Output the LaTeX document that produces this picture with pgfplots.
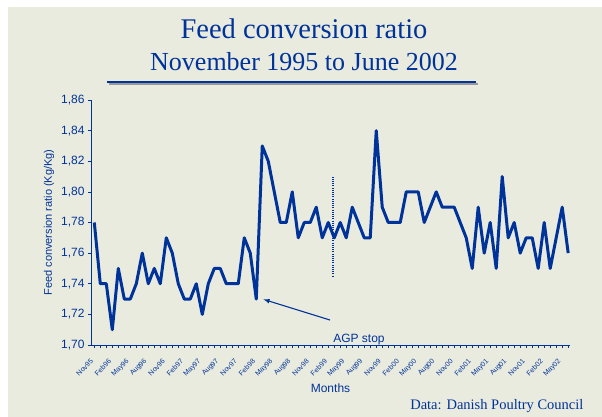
\documentclass[border=0pt]{standalone}
\usepackage{fontspec}
\setmainfont{Liberation Serif}
\newfontfamily\arialf{Liberation Sans}
\usepackage{pgfplots}
\pgfplotsset{compat=1.18}
\definecolor{fcblue}{HTML}{003399}
\definecolor{bgbeige}{HTML}{EAEBDF}

\begin{document}
\begin{tikzpicture}
  \fill[white] (0,0) rectangle (602pt,417pt);
  \fill[bgbeige] (8pt,0) rectangle (602pt,410pt);
  \useasboundingbox (0,0) rectangle (602pt,417pt);

  % title
  \node[anchor=base, text=fcblue, font=\fontsize{28.5}{30}\selectfont] at (304pt,378pt) {Feed conversion ratio};
  \node[anchor=base, text=fcblue, font=\fontsize{26}{28}\selectfont] at (304pt,346pt) {November 1995 to June 2002};
  \draw[gray!80, line width=2pt] (109pt,333pt) -- (478pt,333pt);
  \draw[fcblue, line width=2pt] (107pt,335pt) -- (476pt,335pt);

  \node[anchor=base east, text=fcblue, font=\fontsize{14.5}{16}\selectfont] at (587pt,7pt) {Data: Danish Poultry Council};

  \begin{axis}[
    at={(91pt,72pt)}, anchor=south west,
    scale only axis, width=479pt, height=245pt,
    xmin=-0.55, xmax=79.3,
    ymin=1.70, ymax=1.86,
    axis lines=left,
    axis line style={-, fcblue, line width=0.9pt},
    tick style={fcblue, line width=0.7pt},
    tick align=outside,
    major tick length=3pt, minor tick length=3pt,
    ytick={1.70,1.72,...,1.86},
    /pgf/number format/fixed,
    /pgf/number format/fixed zerofill,
    /pgf/number format/precision=2,
    /pgf/number format/use comma,
    /pgf/number format/assume math mode=true,
    yticklabel style={text=fcblue, font=\arialf\fontsize{12}{13}\selectfont},
    xtick={0,3,...,78},
    minor xtick={0,...,79},
    xticklabels={Nov95,Feb96,May96,Aug96,Nov96,Feb97,May97,Aug97,Nov97,Feb98,May98,Aug98,Nov98,Feb99,May99,Aug99,Nov99,Feb00,May00,Aug00,Nov00,Feb01,May01,Aug01,Nov01,Feb02,May02},
    xticklabel style={rotate=45, anchor=east, text=fcblue, font=\arialf\fontsize{7}{8}\selectfont, xshift=-7pt, yshift=-7pt},
    xlabel={Months},
    xlabel style={at={(axis description cs:0.5,0)}, anchor=base, yshift=-48pt, text=fcblue, font=\arialf\fontsize{12}{13}\selectfont},
    ylabel={Feed conversion ratio (Kg/Kg)},
    ylabel style={text=fcblue, font=\arialf\fontsize{11}{12}\selectfont},
    clip=false,
  ]
    \addplot[fcblue, line width=3pt, line join=round] coordinates {
      (0,1.78) (1,1.74) (2,1.74) (3,1.71) (4,1.75) (5,1.73) (6,1.73) (7,1.74)
      (8,1.76) (9,1.74) (10,1.75) (11,1.74) (12,1.77) (13,1.76) (14,1.74) (15,1.73)
      (16,1.73) (17,1.74) (18,1.72) (19,1.74) (20,1.75) (21,1.75) (22,1.74) (23,1.74)
      (24,1.74) (25,1.77) (26,1.76) (27,1.73) (28,1.83) (29,1.82) (30,1.80) (31,1.78)
      (32,1.78) (33,1.80) (34,1.77) (35,1.78) (36,1.78) (37,1.79) (38,1.77) (39,1.78)
      (40,1.77) (41,1.78) (42,1.77) (43,1.79) (44,1.78) (45,1.77) (46,1.77) (47,1.84)
      (48,1.79) (49,1.78) (50,1.78) (51,1.78) (52,1.80) (53,1.80) (54,1.80) (55,1.78)
      (56,1.79) (57,1.80) (58,1.79) (59,1.79) (60,1.79) (61,1.78) (62,1.77) (63,1.75)
      (64,1.79) (65,1.76) (66,1.78) (67,1.75) (68,1.81) (69,1.77) (70,1.78) (71,1.76)
      (72,1.77) (73,1.77) (74,1.75) (75,1.78) (76,1.75) (77,1.77) (78,1.79) (79,1.76)
    };
    % AGP stop marker
    \draw[fcblue, line width=1.6pt, dash pattern=on 1pt off 1.2pt] (axis cs:39.8,1.810) -- (axis cs:39.8,1.744);
    \draw[fcblue, line width=1.1pt, -latex] (axis cs:39.3,1.7163) -- (axis cs:28.2,1.7298);
    \node[anchor=base west, text=fcblue, font=\arialf\fontsize{12}{13}\selectfont, inner sep=0pt] at (axis cs:39.8,1.7015) {AGP stop};
  \end{axis}
\end{tikzpicture}
\end{document}
